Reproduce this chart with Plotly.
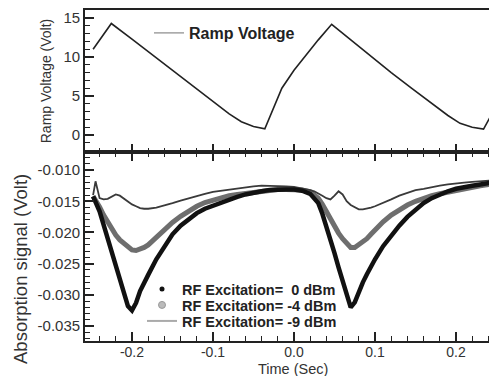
import plotly.graph_objects as go

# ---------------- data ----------------
ramp_t = [-0.248, -0.2255, -0.200, -0.175, -0.150, -0.125, -0.100, -0.080, -0.065, -0.050,
          -0.036, -0.025, -0.015, 0.000, 0.015, 0.030, 0.0465, 0.070, 0.095, 0.120,
          0.145, 0.170, 0.190, 0.205, 0.220, 0.234, 0.2506]
ramp_v = [11.0, 14.3, 12.3, 10.3, 8.2, 6.2, 4.2, 2.7, 1.7, 1.1,
          0.8, 3.5, 6.0, 8.3, 10.3, 12.2, 14.2, 12.2, 10.1, 8.0,
          6.0, 4.0, 2.5, 1.5, 1.0, 0.75, 3.9]

t_abs = [-0.248, -0.245, -0.240, -0.235, -0.230, -0.225, -0.220, -0.215, -0.210, -0.205,
         -0.200, -0.195, -0.190, -0.185, -0.180, -0.170, -0.160, -0.150, -0.140, -0.130,
         -0.120, -0.110, -0.100, -0.090, -0.080, -0.070, -0.060, -0.050, -0.040, -0.030,
         -0.020, -0.010, 0.000, 0.010, 0.020, 0.025, 0.030, 0.035, 0.040, 0.045,
         0.050, 0.055, 0.060, 0.065, 0.070, 0.075, 0.080, 0.085, 0.090, 0.095,
         0.100, 0.110, 0.120, 0.130, 0.140, 0.150, 0.160, 0.170, 0.180, 0.190,
         0.200, 0.210, 0.220, 0.230, 0.240, 0.250]

abs_0dbm = [-0.0142, -0.0150, -0.0166, -0.0188, -0.0210, -0.0231, -0.0253, -0.0276, -0.0297, -0.0318,
            -0.0325, -0.0313, -0.0294, -0.0280, -0.0268, -0.0243, -0.0222, -0.0203, -0.0189, -0.0178,
            -0.0169, -0.0162, -0.0157, -0.0152, -0.0147, -0.0143, -0.0139, -0.0136, -0.0134, -0.0132,
            -0.0131, -0.0131, -0.0131, -0.0133, -0.0138, -0.0145, -0.0153, -0.0170, -0.0190, -0.0211,
            -0.0233, -0.0256, -0.0279, -0.0302, -0.0320, -0.0312, -0.0294, -0.0280, -0.0267, -0.0254,
            -0.0243, -0.0222, -0.0204, -0.0189, -0.0175, -0.0163, -0.0153, -0.0145, -0.0139, -0.0134,
            -0.0130, -0.0127, -0.0125, -0.0123, -0.0121, -0.0119]

abs_m4dbm = [-0.0142, -0.0148, -0.0159, -0.0172, -0.0184, -0.0195, -0.0204, -0.0212, -0.0218, -0.0224,
             -0.0228, -0.0229, -0.0227, -0.0224, -0.0220, -0.0208, -0.0195, -0.0184, -0.0174, -0.0165,
             -0.0158, -0.0152, -0.0148, -0.0144, -0.0141, -0.0139, -0.0137, -0.0135, -0.0133, -0.0132,
             -0.0131, -0.0131, -0.0131, -0.0132, -0.0135, -0.0139, -0.0145, -0.0155, -0.0167, -0.0180,
             -0.0191, -0.0201, -0.0210, -0.0218, -0.0224, -0.0224, -0.0220, -0.0215, -0.0210, -0.0203,
             -0.0196, -0.0183, -0.0172, -0.0163, -0.0156, -0.0150, -0.0145, -0.0141, -0.0138, -0.0135,
             -0.0132, -0.0129, -0.0127, -0.0125, -0.0123, -0.0121]

abs_m9dbm = [-0.0140, -0.0118, -0.0145, -0.0147, -0.0146, -0.0142, -0.0139, -0.0141, -0.0146, -0.0151,
             -0.0155, -0.0158, -0.0161, -0.0162, -0.0162, -0.0160, -0.0157, -0.0153, -0.0149, -0.0145,
             -0.0141, -0.0138, -0.0135, -0.0133, -0.0131, -0.0129, -0.0127, -0.0126, -0.0125, -0.0125,
             -0.0125, -0.0126, -0.0127, -0.0129, -0.0132, -0.0134, -0.0137, -0.0141, -0.0145, -0.0147,
             -0.0141, -0.0134, -0.0139, -0.0150, -0.0156, -0.0160, -0.0163, -0.0163, -0.0162, -0.0160,
             -0.0158, -0.0153, -0.0147, -0.0141, -0.0136, -0.0132, -0.0130, -0.0127, -0.0125, -0.0123,
             -0.0121, -0.0120, -0.0119, -0.0118, -0.0117, -0.0116]

x_tick_vals = [-0.2, -0.1, 0.0, 0.1, 0.2]
x_tick_text = ["-0.2", "-0.1", "0.0", "0.1", "0.2"]
ramp_tick_vals = [0, 5, 10, 15]
ramp_tick_text = ["0", "5", "10", "15"]
abs_tick_vals = [-0.035, -0.030, -0.025, -0.020, -0.015, -0.010]
abs_tick_text = ["-0.035", "-0.030", "-0.025", "-0.020", "-0.015", "-0.010"]

FONT = "Liberation Sans, Arial, sans-serif"
AX = "#222222"
TXT = "#333333"

fig = go.Figure()

# top panel: ramp voltage
fig.add_trace(go.Scatter(x=ramp_t, y=ramp_v, mode="lines", xaxis="x", yaxis="y",
                         line=dict(color="#222222", width=1.6), showlegend=False))
fig.add_trace(go.Scatter(x=[None], y=[None], mode="lines", xaxis="x", yaxis="y",
                         name="Ramp Voltage", legend="legend",
                         line=dict(color="#888888", width=1.2)))

# bottom panel: absorption signals
fig.add_trace(go.Scatter(x=t_abs, y=abs_m4dbm, mode="lines", xaxis="x2", yaxis="y2",
                         line=dict(color="#6e6e6e", width=5), showlegend=False))
fig.add_trace(go.Scatter(x=t_abs, y=abs_m9dbm, mode="lines", xaxis="x2", yaxis="y2",
                         line=dict(color="#3a3a3a", width=1.8), showlegend=False))
fig.add_trace(go.Scatter(x=t_abs, y=abs_0dbm, mode="lines", xaxis="x2", yaxis="y2",
                         line=dict(color="#111111", width=4.5), showlegend=False))

fig.add_trace(go.Scatter(x=[None], y=[None], mode="markers", xaxis="x2", yaxis="y2",
                         name="RF Excitation=\u00a0\u00a00 dBm", legend="legend2",
                         marker=dict(color="#111111", size=5)))
fig.add_trace(go.Scatter(x=[None], y=[None], mode="markers", xaxis="x2", yaxis="y2",
                         name="RF Excitation= -4 dBm", legend="legend3",
                         marker=dict(color="#bbbbbb", size=7, line=dict(color="#999999", width=1))))
fig.add_trace(go.Scatter(x=[None], y=[None], mode="lines", xaxis="x2", yaxis="y2",
                         name="RF Excitation= -9 dBm", legend="legend4",
                         line=dict(color="#aaaaaa", width=2)))

common = dict(showline=True, linecolor=AX, linewidth=1.8, ticks="inside", tickcolor=AX,
              tickwidth=1.5, showgrid=False, zeroline=False)

split = 0.571
xr = [-0.258, 0.2506]

# figure coordinates: page has an 8 px body margin
L, T, B, W, H = 77, 2, 35, 489, 368
PH = H - T - B  # plot height in px
def py(fig_y):
    return (H - B - fig_y) / PH
def px(fig_x):
    return (fig_x - L) / (W - L)

leg_font = dict(family=FONT, size=14, color="#222222", weight="bold")
def leg(x, y, size=14.5):
    return dict(x=x, y=y, xanchor="left", yanchor="top", bgcolor="rgba(0,0,0,0)",
                borderwidth=0, font=dict(leg_font, size=size))

fig.update_layout(
    width=W, height=H,
    margin=dict(l=L, r=0, t=T, b=B),
    paper_bgcolor="white", plot_bgcolor="white",
    font=dict(family=FONT, color=TXT),
    xaxis=dict(common, domain=[0, 1], anchor="y", range=xr, ticklen=8,
               tickmode="array", tickvals=x_tick_vals, ticktext=x_tick_text,
               showticklabels=False, mirror=True,
               minor=dict(ticks="inside", ticklen=4, tickwidth=1.2, tickcolor=AX,
                          dtick=0.02, tick0=0)),
    yaxis=dict(common, domain=[split, 1], anchor="x", range=[-2.18, 16.03], ticklen=9,
               tickmode="array", tickvals=ramp_tick_vals, ticktext=ramp_tick_text,
               tickfont=dict(family=FONT, size=15, color=TXT),
               title=dict(text="Ramp Voltage (Volt)", font=dict(family=FONT, size=14, color=TXT),
                          standoff=8),
               minor=dict(ticks="inside", ticklen=5, tickwidth=1.2, tickcolor=AX, dtick=1, tick0=0)),
    xaxis2=dict(common, domain=[0, 1], anchor="y2", range=xr, ticklen=9, matches="x",
                tickmode="array", tickvals=x_tick_vals, ticktext=x_tick_text,
                tickfont=dict(family=FONT, size=14, color=TXT), ticklabelstandoff=-3,
                mirror="ticks",
                minor=dict(ticks="inside", ticklen=5, tickwidth=1.2, tickcolor=AX,
                           dtick=0.02, tick0=0)),
    yaxis2=dict(common, domain=[0, split], anchor="x2", range=[-0.0374, -0.0071], ticklen=9,
                tickmode="array", tickvals=abs_tick_vals, ticktext=abs_tick_text,
                tickfont=dict(family=FONT, size=15, color=TXT),
                minor=dict(ticks="inside", ticklen=5, tickwidth=1.2, tickcolor=AX,
                           dtick=0.001, tick0=0)),
    legend=leg(px(141), py(8), size=16),
    legend2=leg(px(134), py(265)),
    legend3=leg(px(134), py(281)),
    legend4=leg(px(134), py(297)),
    annotations=[
        dict(text="Absorption signal (Volt)", textangle=-90, xref="paper", yref="paper",
             x=px(12), y=py(261), xanchor="center", yanchor="middle", showarrow=False,
             font=dict(family=FONT, size=18.5, color=TXT)),
        dict(text="Time (Sec)", xref="paper", yref="paper",
             x=px(284.5), y=py(360.5), xanchor="center", yanchor="middle", showarrow=False,
             font=dict(family=FONT, size=14.5, color=TXT)),
    ],
)

fig.write_html("out.html")
